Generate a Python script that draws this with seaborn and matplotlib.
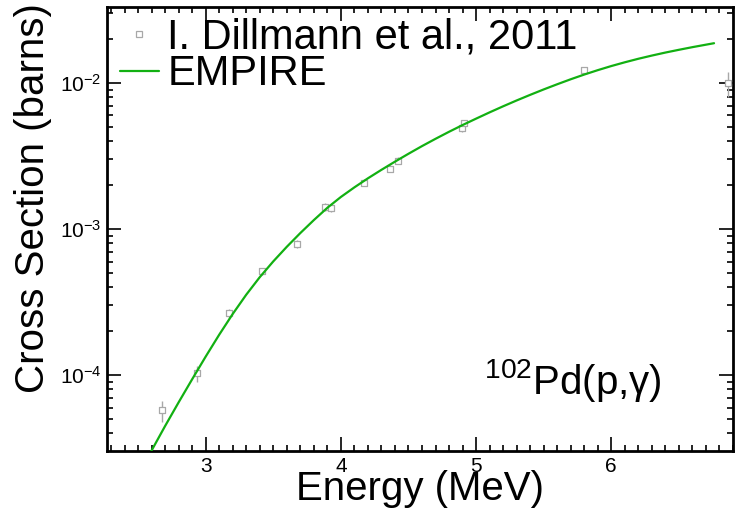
import numpy as np
import pandas as pd
import matplotlib
matplotlib.use("Agg")
import matplotlib.pyplot as plt
from matplotlib.lines import Line2D
from matplotlib.ticker import MultipleLocator, LogLocator, LogFormatterSciNotation, NullFormatter
import seaborn as sns

# EMPIRE calculation, 102Pd(p,gamma)
empire_energy = [2.55, 2.6, 2.7, 2.8, 2.9, 3.0, 3.1, 3.2, 3.3, 3.4, 3.5, 3.6, 3.7, 3.8, 3.9,
                 4.0, 4.1, 4.2, 4.3, 4.4, 4.5, 4.6, 4.7, 4.8, 4.9, 5.0, 5.1, 5.2, 5.3, 5.4,
                 5.5, 5.6, 5.7, 5.8, 5.9, 6.0, 6.1, 6.2, 6.3, 6.4, 6.5, 6.6, 6.7, 6.76]
empire_xs = [2.512e-5, 3.048e-5, 4.487e-5, 6.516e-5, 9.376e-5, 1.340e-4, 1.892e-4, 2.624e-4,
             3.556e-4, 4.688e-4, 6.012e-4, 7.568e-4, 9.397e-4, 1.153e-3, 1.400e-3, 1.660e-3,
             1.932e-3, 2.228e-3, 2.547e-3, 2.897e-3, 3.281e-3, 3.702e-3, 4.153e-3, 4.640e-3,
             5.159e-3, 5.708e-3, 6.302e-3, 6.934e-3, 7.603e-3, 8.306e-3, 9.047e-3, 9.817e-3,
             1.062e-2, 1.144e-2, 1.226e-2, 1.308e-2, 1.388e-2, 1.467e-2, 1.543e-2, 1.618e-2,
             1.690e-2, 1.762e-2, 1.832e-2, 1.875e-2]

# Measured cross sections (Dillmann et al., 2011)
exp_energy = [2.674, 2.933, 3.17, 3.415, 3.674, 3.88, 3.93, 4.17, 4.36, 4.42, 4.895, 4.91, 5.80, 6.865]
exp_xs = [5.75e-5, 1.03e-4, 2.65e-4, 5.15e-4, 7.9e-4, 1.42e-3, 1.40e-3, 2.08e-3, 2.6e-3,
          2.95e-3, 4.9e-3, 5.3e-3, 1.22e-2, 1.0e-2]
exp_err = [0.95e-5, 1.3e-5, 1.8e-5, 3e-5, 5e-5, 8e-5, 8e-5, 1.2e-4, 1.5e-4, 1.7e-4,
           3e-4, 3e-4, 6e-4, 2.0e-3]

calc = pd.DataFrame({"Energy": empire_energy, "xs": empire_xs})
meas = pd.DataFrame({"Energy": exp_energy, "xs": exp_xs, "err": exp_err})

sns.set_theme(style="ticks")
plt.rcParams["font.family"] = ["Liberation Sans", "DejaVu Sans"]
plt.rcParams["mathtext.fontset"] = "custom"
plt.rcParams["mathtext.rm"] = "Liberation Sans"
plt.rcParams["mathtext.it"] = "Liberation Sans:italic"
plt.rcParams["mathtext.default"] = "regular"
for key in ["text.color", "axes.labelcolor", "xtick.color", "ytick.color", "axes.edgecolor"]:
    plt.rcParams[key] = "black"

fig = plt.figure(figsize=(7.43, 5.12), dpi=100)
ax = fig.add_axes([0.144, 0.119, 0.8425, 0.867])

green = "#12b012"
gray = "#a8a8a8"

ax.errorbar(meas["Energy"], meas["xs"], yerr=meas["err"], fmt="none",
            ecolor=gray, elinewidth=1.0, capsize=0, zorder=2)
sns.scatterplot(data=meas, x="Energy", y="xs", ax=ax, marker="s", s=22,
                facecolor="white", edgecolor=gray, linewidth=0.9, zorder=3, legend=False)
sns.lineplot(data=calc, x="Energy", y="xs", ax=ax, color=green, linewidth=1.6,
             zorder=4, legend=False)

ax.set_yscale("log")
ax.set_xlim(2.27, 6.9)
ax.set_ylim(3.02e-5, 3.31e-2)

ax.xaxis.set_major_locator(MultipleLocator(1))
ax.xaxis.set_minor_locator(MultipleLocator(0.1))
ax.yaxis.set_major_locator(LogLocator(base=10))
ax.yaxis.set_major_formatter(LogFormatterSciNotation())
ax.yaxis.set_minor_locator(LogLocator(base=10, subs=np.arange(2, 10)))
ax.yaxis.set_minor_formatter(NullFormatter())

ax.tick_params(which="both", direction="in", top=True, right=True, colors="black",
               labelsize=15, width=1.2)
ax.tick_params(which="major", length=10, pad=4)
ax.tick_params(which="minor", length=4)
for sp in ax.spines.values():
    sp.set_linewidth(2)
    sp.set_color("black")

ax.set_xlabel("Energy (MeV)", fontsize=29, labelpad=-4)
ax.set_ylabel("Cross Section (barns)", fontsize=29)
ax.yaxis.set_label_coords(-0.088, 0.57)

ax.text(0.603, 0.16, r"$^{102}$Pd(p,$\gamma$)", transform=ax.transAxes,
        fontsize=29, ha="left", va="center")

handles = [
    Line2D([], [], linestyle="none", marker="s", markersize=5, markerfacecolor="white",
           markeredgecolor=gray, markeredgewidth=0.9),
    Line2D([], [], color=green, linewidth=1.6),
]
ax.legend(handles, ["I. Dillmann et al., 2011", "EMPIRE"], loc="upper left",
          bbox_to_anchor=(0.02, 0.976), frameon=False, fontsize=30, handlelength=0.95,
          handletextpad=0.2, labelspacing=-0.08, borderaxespad=0.0, borderpad=0.0)

fig.savefig("out.png", dpi=100)
